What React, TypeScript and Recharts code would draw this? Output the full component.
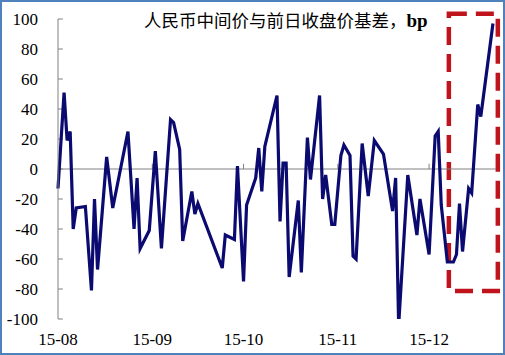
import { LineChart, Line, XAxis, YAxis, ReferenceLine, ReferenceArea } from 'recharts'

// day index since 2015-08-01 and basis value (bp)
const days = [
  0, 2, 3, 4, 5, 6, 9, 11, 12, 13, 16, 18, 23, 25, 26, 27, 30, 32, 34, 37,
  38, 40, 41, 44, 45, 46, 54, 55, 58, 59, 61, 62, 65, 66, 67, 68, 72, 73, 74, 75,
  76, 79, 80, 82, 83, 86, 87, 88, 90, 91, 93, 94, 96, 97, 98, 100, 102, 104, 107, 110,
  111, 112, 115, 118, 119, 122, 124, 125, 126, 128, 130, 131, 132, 133, 135, 136, 138, 139, 143,
]
const basis = [
  -13, 51, 19, 25, -40, -26, -25, -81, -20, -67, 8, -26, 25, -40, -6, -53, -41, 12, -53, 33,
  31, 13, -48, -15, -30, -23, -66, -44, -47, 2, -75, -24, -6, 14, -15, 15, 49, -35, 4, 4,
  -72, -21, -69, 21, -7, 49, -20, -4, -37, -37, 9, 16, 9, -58, -60, 17, -18, 19, 10, -28,
  -6, -104, -4, -44, -20, -57, 22, 25, -24, -62, -62, -57, -23, -55, -13, -16, 43, 35, 97,
]
const xTicks = [0, 31, 61, 92, 122]
const xLabels = ['15-08', '15-09', '15-10', '15-11', '15-12']
const yTicks = [-100, -80, -60, -40, -20, 0, 20, 40, 60, 80, 100]

const data = days.map((d, i) => ({ day: d, v: basis[i] }))

const serif = '"Liberation Serif", "Times New Roman", serif'

function XTick({ x, y, payload }: any) {
  return (
    <text x={x} y={y} dy="0.71em" textAnchor="middle" fontFamily={serif} fontSize={17} fill="#000">
      {xLabels[xTicks.indexOf(payload.value)] ?? ''}
    </text>
  )
}

function YTick({ x, y, payload }: any) {
  return (
    <text x={x} y={y} dy="0.355em" textAnchor="end" fontFamily={serif} fontSize={17} fill="#000">
      {payload.value}
    </text>
  )
}

export default function App() {
  return (
    <div
      style={{
        position: 'absolute',
        left: 0,
        top: 0,
        width: 505,
        height: 355,
        background: '#fff',
      }}
    >
      <LineChart
        width={505}
        height={355}
        data={data}
        margin={{ top: 19, right: 9, bottom: 0, left: 0 }}
        style={{ position: 'absolute', left: 0, top: 0 }}
      >
        <XAxis
          type="number"
          dataKey="day"
          domain={[0, 144]}
          ticks={xTicks}
          axisLine={false}
          tickLine={false}
          tickSize={0}
          tickMargin={14}
          tick={<XTick />}
          height={36}
        />
        <YAxis
          domain={[-100, 100]}
          ticks={yTicks}
          allowDataOverflow
          width={58}
          axisLine={{ stroke: '#808080' }}
          tickLine={false}
          tickSize={0}
          tickMargin={20}
          tick={<YTick />}
        />
        <ReferenceLine y={0} stroke="#808080" />
        {yTicks.map((t) => (
          <ReferenceLine key={'y' + t} segment={[{ x: 0, y: t }, { x: 1.6, y: t }]} stroke="#808080" />
        ))}
        {xTicks.slice(1).map((t) => (
          <ReferenceLine key={'x' + t} segment={[{ x: t, y: 0 }, { x: t, y: 3.5 }]} stroke="#808080" />
        ))}
        <Line
          type="linear"
          dataKey="v"
          stroke="#0a0a70"
          strokeWidth={3.2}
          dot={false}
          isAnimationActive={false}
        />
        <ReferenceArea
          x1={128.5}
          x2={144.6}
          y1={-81.3}
          y2={103.5}
          ifOverflow="visible"
          fill="none"
          stroke="#c0141c"
          strokeWidth={4.5}
          strokeDasharray="18 9"
        />
      </LineChart>
      <div
        style={{
          position: 'absolute',
          left: 144,
          top: 8,
          fontFamily: '"Noto Sans CJK SC", sans-serif',
          fontSize: 17.5,
          lineHeight: '24px',
          color: '#000',
          whiteSpace: 'nowrap',
        }}
      >
        人民币中间价与前日收盘价基差，
        <span style={{ fontFamily: serif, fontWeight: 'bold', fontSize: 19 }}>bp</span>
      </div>
      <div
        style={{
          position: 'absolute',
          left: 0,
          top: 0,
          width: 505,
          height: 355,
          boxSizing: 'border-box',
          border: '2px solid #4f81bd',
          pointerEvents: 'none',
        }}
      />
    </div>
  )
}
